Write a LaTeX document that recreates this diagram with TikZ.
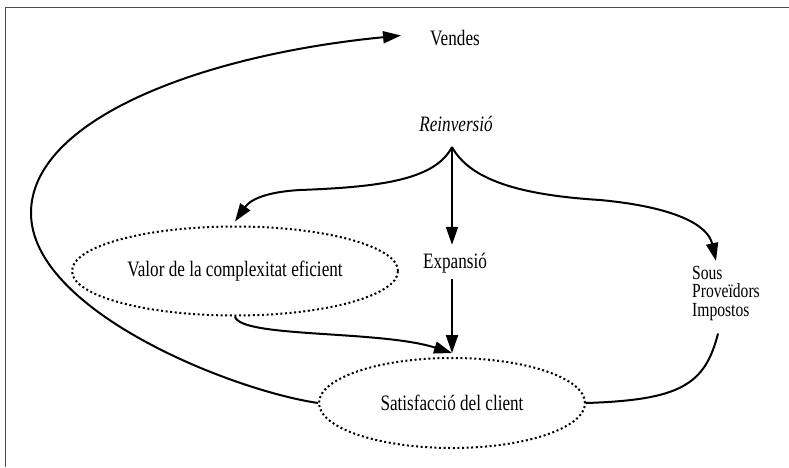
\documentclass[tikz,border=0pt]{standalone}
\usepackage{fontspec}
\setmainfont[FakeStretch=0.78]{Liberation Serif}
\usetikzlibrary{arrows.meta,shapes.geometric}

\begin{document}
\begin{tikzpicture}[
    x=1pt, y=-1pt,
    font=\fontsize{22}{25}\selectfont,
    txt/.style={inner sep=0pt},
    dotellipse/.style={draw, ellipse, line width=2pt,
                       dash pattern=on 2pt off 2.6pt, inner sep=0pt},
    arrow/.style={-{Triangle[length=18pt,width=12pt]}, line width=2pt},
    link/.style={line width=2pt}
]
\useasboundingbox (0,0) rectangle (789,467);
\draw[line width=0.8pt, black!70] (5,467) -- (5,7) -- (789,7);

\node[txt] (vendes) at (455,38.5) {Vendes};
\node[txt, font=\fontsize{22}{25}\selectfont\itshape] (reinv) at (456,124) {Reinversió};
\coordinate (fork) at (452,147);
\node[txt] (expansio) at (455,263) {Expansió};
\node[txt, anchor=north west, align=left, font=\fontsize{20}{18.3}\selectfont]
    (sous) at (692,266) {Sous\\Proveïdors\\Impostos};
\node[dotellipse, minimum width=326pt, minimum height=89pt] (valor) at (235,271)
    {Valor de la complexitat eficient};
\node[dotellipse, minimum width=266pt, minimum height=90pt] (satisf) at (452,403)
    {Satisfacció del client};

% loop back to sales
\draw[arrow] (satisf.west) .. controls (230,390) and (31,310) .. (31,213)
    .. controls (31,120) and (200,55) .. ([shift={(-29,-3)}]vendes.west);

% reinvestment
\draw[arrow] (fork) .. controls (435,180) and (380,187) .. (300,190)
    .. controls (265,192) and (250,200) .. ([yshift=4pt]valor.north);
\draw[arrow] (fork) -- ([xshift=-3pt,yshift=8pt]expansio.north);
\draw[arrow] (fork) .. controls (470,180) and (520,195) .. (600,200)
    .. controls (675,207) and (708,225) .. ([shift={(24,-5)}]sous.north west);

% into client satisfaction
\draw[arrow] ([xshift=-3pt,yshift=-6pt]expansio.south) -- ([yshift=4pt]satisf.north);
\draw[arrow] (valor.south) .. controls (240,338) and (380,330) .. ([yshift=4pt]satisf.north);
\draw[link] ([shift={(26,13)}]sous.south west) .. controls (705,385) and (680,400) .. (satisf.east);
\end{tikzpicture}
\end{document}
